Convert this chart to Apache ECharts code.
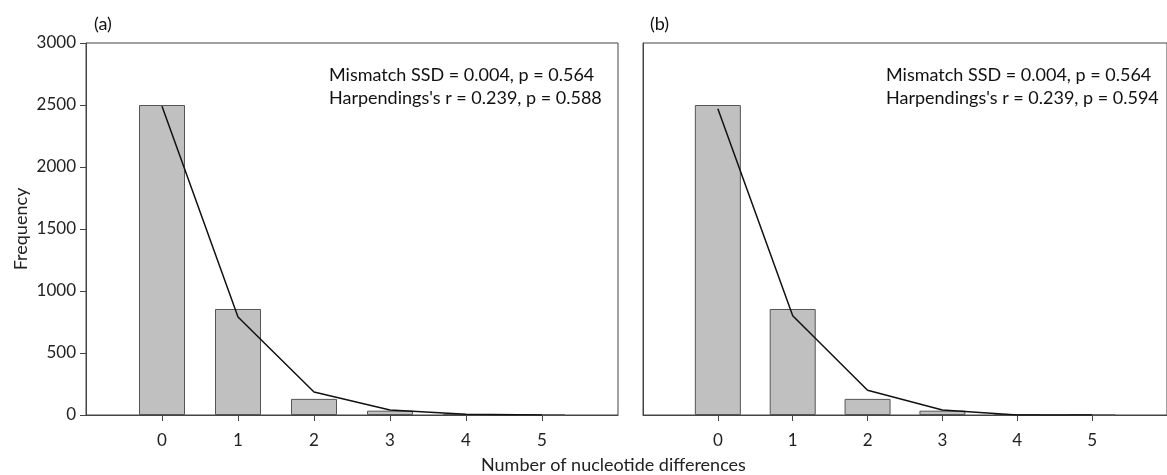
<!DOCTYPE html>
<html>
<head>
<meta charset="utf-8">
<script src="https://cdn.jsdelivr.net/npm/echarts@6/dist/echarts.min.js"></script>
<style>
html,body{margin:0;padding:0;background:#fff;}
#chart{width:1167px;height:475px;}
</style>
</head>
<body>
<div id="chart"></div>
<script>
const categories = [0, 1, 2, 3, 4, 5];
const barsA = [2500, 855, 130, 35, 5, 1];
const lineA = [2490, 790, 185, 40, 6, 1];
const barsB = [2500, 855, 130, 35, 3, 0];
const lineB = [2470, 800, 200, 40, 0, 0];
const yTicks = [0, 500, 1000, 1500, 2000, 2500, 3000];
const statsA = ["Mismatch SSD = 0.004, p = 0.564", "Harpendings's r = 0.239, p = 0.588"];
const statsB = ["Mismatch SSD = 0.004, p = 0.564", "Harpendings's r = 0.239, p = 0.594"];
const panelLabels = ["(a)", "(b)"];
const xTitle = "Number of nucleotide differences";
const yTitle = "Frequency";

const FONT = "Lato, 'Liberation Sans', Arial, sans-serif";
const chart = echarts.init(document.getElementById('chart'), null, {renderer: 'canvas'});

function pairs(vals) { return categories.map((c, i) => [c, vals[i]]); }

function xAxisDef(gi) {
  return {
    gridIndex: gi, type: 'value', min: -1, max: 6, interval: 1,
    axisLine: {show: true, onZero: false, lineStyle: {color: '#444', width: 1}},
    axisTick: {show: true, customValues: categories, length: 6, lineStyle: {color: '#444'}},
    axisLabel: {show: true, customValues: categories, margin: 17, color: '#222', fontSize: 17, fontFamily: FONT},
    splitLine: {show: false}
  };
}
function yAxisDef(gi, showLabels) {
  return {
    gridIndex: gi, type: 'value', min: yTicks[0], max: yTicks[yTicks.length - 1], interval: 500,
    axisLine: {show: true, onZero: false, lineStyle: {color: '#444', width: 1}},
    axisTick: {show: showLabels, length: 6, lineStyle: {color: '#444'}},
    axisLabel: {show: showLabels, margin: 10, color: '#222', fontSize: 17, fontFamily: FONT,
                formatter: v => String(v)},
    splitLine: {show: false},
    name: showLabels ? yTitle : '',
    nameLocation: 'middle', nameGap: 56, nameRotate: 90,
    nameTextStyle: {color: '#222', fontSize: 18, fontFamily: FONT}
  };
}
function barSeries(gi, vals) {
  return {
    type: 'bar', xAxisIndex: gi, yAxisIndex: gi, data: pairs(vals), barWidth: 46,
    itemStyle: {color: '#c0c0c0', borderColor: '#555', borderWidth: 1}, z: 2
  };
}
function lineSeries(gi, vals) {
  return {
    type: 'line', xAxisIndex: gi, yAxisIndex: gi, data: pairs(vals), symbol: 'none',
    lineStyle: {color: '#111', width: 1.5}, z: 5
  };
}
function txt(x, y, s, size) {
  return {type: 'text', left: x, top: y, style: {text: s, fill: '#111', font: size + 'px ' + FONT}};
}

chart.setOption({
  animation: false,
  grid: [
    {left: 86, top: 43, width: 532, height: 372, show: true, borderColor: '#444', borderWidth: 1},
    {left: 643, top: 43, width: 532, height: 372, show: true, borderColor: '#444', borderWidth: 1}
  ],
  xAxis: [xAxisDef(0), xAxisDef(1)],
  yAxis: [yAxisDef(0, true), yAxisDef(1, false)],
  series: [barSeries(0, barsA), lineSeries(0, lineA), barSeries(1, barsB), lineSeries(1, lineB)],
  graphic: [
    txt(94, 15, panelLabels[0], 18),
    txt(650, 15, panelLabels[1], 18),
    txt(329, 66, statsA[0], 18),
    txt(329, 89, statsA[1], 18),
    txt(886, 66, statsB[0], 18),
    txt(886, 89, statsB[1], 18),
    {type: 'text', left: 481, top: 456, style: {text: xTitle, fill: '#222', font: '18px ' + FONT}}
  ]
});
</script>
</body>
</html>
